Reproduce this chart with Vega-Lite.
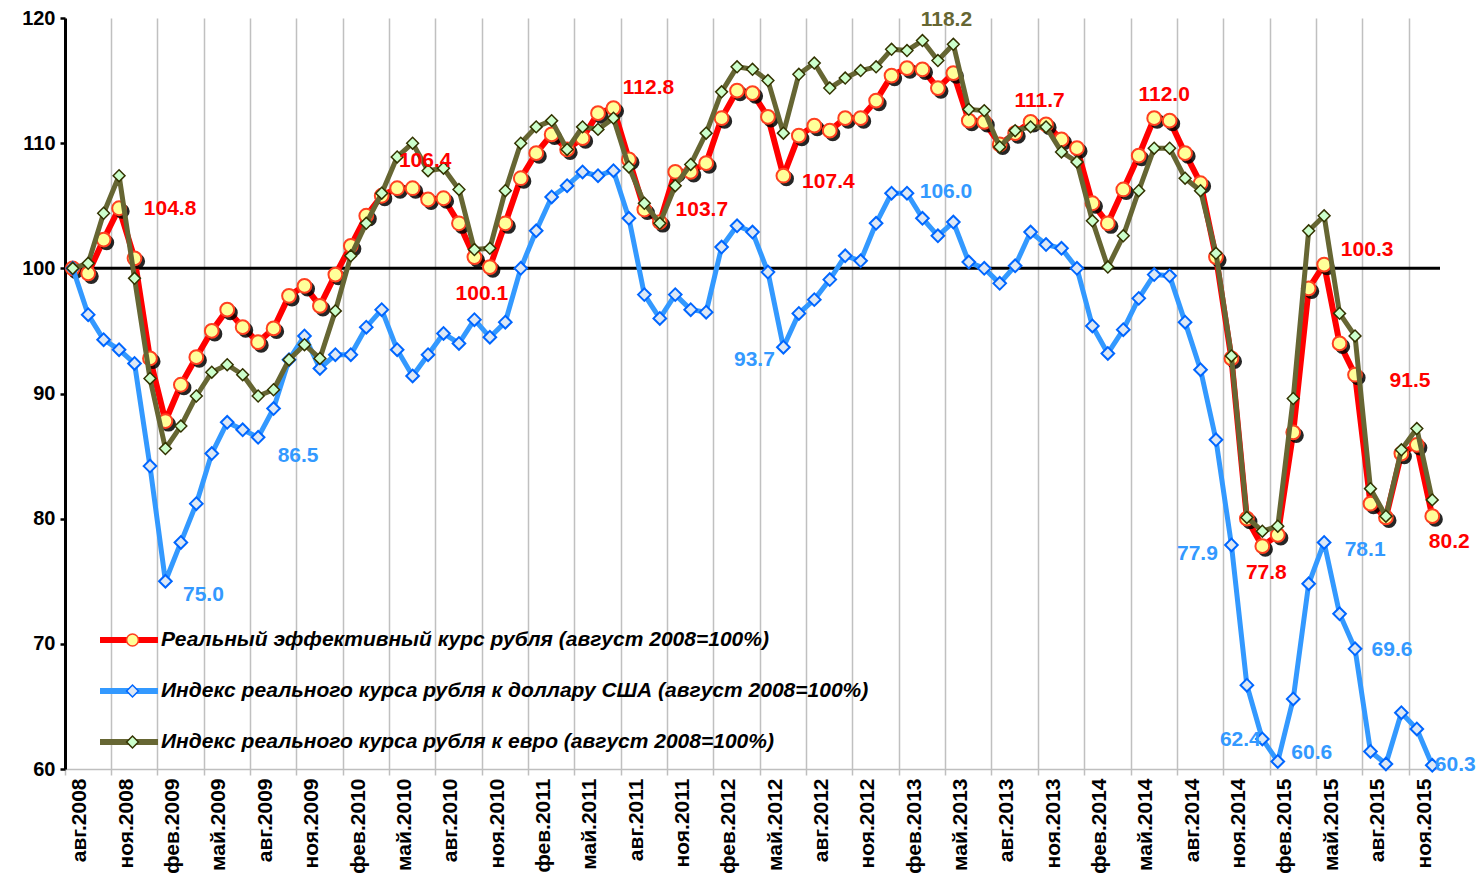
{
  "$schema": "https://vega.github.io/schema/vega-lite/v6.json",
  "width": 1375,
  "height": 751,
  "autosize": {"type": "none"},
  "padding": {"left": 65, "top": 18, "right": 40, "bottom": 112},
  "background": "white",
  "config": {
    "view": {"stroke": null},
    "font": "Liberation Sans",
    "axisY": {"domainColor": "black", "domainWidth": 3, "tickColor": "black", "tickWidth": 2.5, "tickSize": 5, "labelPadding": 5, "labelFont": "Liberation Sans", "labelFontSize": 20, "labelFontWeight": "bold", "labelColor": "black", "gridColor": "#C0C0C0", "gridWidth": 1.5},
    "axisX": {"domainColor": "#BFBFBF", "domainWidth": 1.5, "tickColor": "#BFBFBF", "tickWidth": 1.5, "tickSize": 6, "labelPadding": 3, "labelAngle": 270, "labelFont": "Liberation Sans", "labelFontSize": 21, "labelFontWeight": "bold", "labelColor": "black", "gridColor": "#C0C0C0", "gridWidth": 1.5, "grid": true, "bandPosition": 0, "labelOffset": 7.7}
  },
  "data": {"values": [
    {"m": "авг.2008", "r": 100, "u": 100, "e": 100},
    {"m": "сен.2008", "r": 99.6, "u": 96.3, "e": 100.4},
    {"m": "окт.2008", "r": 102.3, "u": 94.3, "e": 104.4},
    {"m": "ноя.2008", "r": 104.8, "u": 93.5, "e": 107.4},
    {"m": "дек.2008", "r": 100.8, "u": 92.4, "e": 99.2},
    {"m": "янв.2009", "r": 92.8, "u": 84.2, "e": 91.2},
    {"m": "фев.2009", "r": 87.8, "u": 75.0, "e": 85.6},
    {"m": "мар.2009", "r": 90.7, "u": 78.1, "e": 87.4},
    {"m": "апр.2009", "r": 92.9, "u": 81.2, "e": 89.8},
    {"m": "май.2009", "r": 95.0, "u": 85.2, "e": 91.7},
    {"m": "июн.2009", "r": 96.7, "u": 87.7, "e": 92.3},
    {"m": "июл.2009", "r": 95.3, "u": 87.1, "e": 91.5},
    {"m": "авг.2009", "r": 94.1, "u": 86.5, "e": 89.8},
    {"m": "сен.2009", "r": 95.2, "u": 88.8, "e": 90.3},
    {"m": "окт.2009", "r": 97.8, "u": 92.7, "e": 92.7},
    {"m": "ноя.2009", "r": 98.6, "u": 94.6, "e": 93.9},
    {"m": "дек.2009", "r": 97.0, "u": 92.0, "e": 92.8},
    {"m": "янв.2010", "r": 99.5, "u": 93.1, "e": 96.6},
    {"m": "фев.2010", "r": 101.8, "u": 93.1, "e": 101.0},
    {"m": "мар.2010", "r": 104.2, "u": 95.3, "e": 103.6},
    {"m": "апр.2010", "r": 105.8, "u": 96.7, "e": 106.0},
    {"m": "май.2010", "r": 106.4, "u": 93.5, "e": 108.9},
    {"m": "июн.2010", "r": 106.4, "u": 91.4, "e": 110.0},
    {"m": "июл.2010", "r": 105.5, "u": 93.1, "e": 107.8},
    {"m": "авг.2010", "r": 105.6, "u": 94.8, "e": 108.0},
    {"m": "сен.2010", "r": 103.6, "u": 94.0, "e": 106.3},
    {"m": "окт.2010", "r": 100.9, "u": 95.9, "e": 101.5},
    {"m": "ноя.2010", "r": 100.1, "u": 94.5, "e": 101.6},
    {"m": "дек.2010", "r": 103.6, "u": 95.7, "e": 106.2},
    {"m": "янв.2011", "r": 107.2, "u": 100.0, "e": 110.0},
    {"m": "фев.2011", "r": 109.2, "u": 103.0, "e": 111.3},
    {"m": "мар.2011", "r": 110.7, "u": 105.7, "e": 111.8},
    {"m": "апр.2011", "r": 109.5, "u": 106.6, "e": 109.5},
    {"m": "май.2011", "r": 110.4, "u": 107.7, "e": 111.3},
    {"m": "июн.2011", "r": 112.4, "u": 107.4, "e": 111.1},
    {"m": "июл.2011", "r": 112.8, "u": 107.8, "e": 112.0},
    {"m": "авг.2011", "r": 108.7, "u": 104.0, "e": 108.1},
    {"m": "сен.2011", "r": 104.7, "u": 97.9, "e": 105.2},
    {"m": "окт.2011", "r": 103.7, "u": 96.0, "e": 103.6},
    {"m": "ноя.2011", "r": 107.7, "u": 97.9, "e": 106.6},
    {"m": "дек.2011", "r": 107.7, "u": 96.7, "e": 108.3},
    {"m": "янв.2012", "r": 108.4, "u": 96.5, "e": 110.8},
    {"m": "фев.2012", "r": 112.0, "u": 101.7, "e": 114.1},
    {"m": "мар.2012", "r": 114.2, "u": 103.4, "e": 116.1},
    {"m": "апр.2012", "r": 114.0, "u": 102.9, "e": 115.9},
    {"m": "май.2012", "r": 112.1, "u": 99.7, "e": 115.0},
    {"m": "июн.2012", "r": 107.4, "u": 93.7, "e": 110.8},
    {"m": "июл.2012", "r": 110.6, "u": 96.4, "e": 115.5},
    {"m": "авг.2012", "r": 111.4, "u": 97.5, "e": 116.4},
    {"m": "сен.2012", "r": 111.0, "u": 99.1, "e": 114.4},
    {"m": "окт.2012", "r": 112.0, "u": 101.0, "e": 115.2},
    {"m": "ноя.2012", "r": 112.0, "u": 100.6, "e": 115.8},
    {"m": "дек.2012", "r": 113.4, "u": 103.6, "e": 116.1},
    {"m": "янв.2013", "r": 115.4, "u": 106.0, "e": 117.5},
    {"m": "фев.2013", "r": 116.0, "u": 106.0, "e": 117.4},
    {"m": "мар.2013", "r": 115.9, "u": 104.0, "e": 118.2},
    {"m": "апр.2013", "r": 114.4, "u": 102.6, "e": 116.6},
    {"m": "май.2013", "r": 115.6, "u": 103.7, "e": 117.9},
    {"m": "июн.2013", "r": 111.8, "u": 100.5, "e": 112.7},
    {"m": "июл.2013", "r": 111.7, "u": 100.0, "e": 112.6},
    {"m": "авг.2013", "r": 109.9, "u": 98.8, "e": 109.7},
    {"m": "сен.2013", "r": 110.8, "u": 100.2, "e": 111.0},
    {"m": "окт.2013", "r": 111.7, "u": 102.9, "e": 111.3},
    {"m": "ноя.2013", "r": 111.5, "u": 101.9, "e": 111.3},
    {"m": "дек.2013", "r": 110.3, "u": 101.6, "e": 109.3},
    {"m": "янв.2014", "r": 109.6, "u": 100.0, "e": 108.5},
    {"m": "фев.2014", "r": 105.2, "u": 95.4, "e": 103.8},
    {"m": "мар.2014", "r": 103.6, "u": 93.2, "e": 100.1},
    {"m": "апр.2014", "r": 106.3, "u": 95.1, "e": 102.6},
    {"m": "май.2014", "r": 109.0, "u": 97.6, "e": 106.2},
    {"m": "июн.2014", "r": 112.0, "u": 99.5, "e": 109.6},
    {"m": "июл.2014", "r": 111.8, "u": 99.4, "e": 109.6},
    {"m": "авг.2014", "r": 109.2, "u": 95.7, "e": 107.2},
    {"m": "сен.2014", "r": 106.8, "u": 91.9, "e": 106.2},
    {"m": "окт.2014", "r": 100.9, "u": 86.3, "e": 101.2},
    {"m": "ноя.2014", "r": 92.8, "u": 77.9, "e": 93.0},
    {"m": "дек.2014", "r": 80.0, "u": 66.7, "e": 80.1},
    {"m": "янв.2015", "r": 77.8, "u": 62.4, "e": 79.0},
    {"m": "фев.2015", "r": 78.7, "u": 60.6, "e": 79.4},
    {"m": "мар.2015", "r": 86.9, "u": 65.6, "e": 89.6},
    {"m": "апр.2015", "r": 98.4, "u": 74.8, "e": 103.0},
    {"m": "май.2015", "r": 100.3, "u": 78.1, "e": 104.2},
    {"m": "июн.2015", "r": 94.0, "u": 72.4, "e": 96.4},
    {"m": "июл.2015", "r": 91.5, "u": 69.6, "e": 94.6},
    {"m": "авг.2015", "r": 81.2, "u": 61.4, "e": 82.4},
    {"m": "сен.2015", "r": 80.1, "u": 60.4, "e": 80.2},
    {"m": "окт.2015", "r": 85.2, "u": 64.5, "e": 85.5},
    {"m": "ноя.2015", "r": 85.9, "u": 63.2, "e": 87.2},
    {"m": "дек.2015", "r": 80.2, "u": 60.3, "e": 81.5}
  ]},
  "layer": [
    {
      "data": {"values": [{}]},
      "mark": {"type": "rule", "color": "black", "strokeWidth": 3},
      "encoding": {"y": {"datum": 100, "type": "quantitative", "scale": {"domain": [60, 120], "nice": false, "zero": false}, "axis": {"values": [60, 70, 80, 90, 100, 110, 120], "title": null}}}
    },
    {
      "encoding": {"x": {"field": "m", "type": "nominal", "sort": null, "title": null,
        "scale": {"type": "band", "paddingInner": 0, "paddingOuter": 0, "domain": ["авг.2008","сен.2008","окт.2008","ноя.2008","дек.2008","янв.2009","фев.2009","мар.2009","апр.2009","май.2009","июн.2009","июл.2009","авг.2009","сен.2009","окт.2009","ноя.2009","дек.2009","янв.2010","фев.2010","мар.2010","апр.2010","май.2010","июн.2010","июл.2010","авг.2010","сен.2010","окт.2010","ноя.2010","дек.2010","янв.2011","фев.2011","мар.2011","апр.2011","май.2011","июн.2011","июл.2011","авг.2011","сен.2011","окт.2011","ноя.2011","дек.2011","янв.2012","фев.2012","мар.2012","апр.2012","май.2012","июн.2012","июл.2012","авг.2012","сен.2012","окт.2012","ноя.2012","дек.2012","янв.2013","фев.2013","мар.2013","апр.2013","май.2013","июн.2013","июл.2013","авг.2013","сен.2013","окт.2013","ноя.2013","дек.2013","янв.2014","фев.2014","мар.2014","апр.2014","май.2014","июн.2014","июл.2014","авг.2014","сен.2014","окт.2014","ноя.2014","дек.2014","янв.2015","фев.2015","мар.2015","апр.2015","май.2015","июн.2015","июл.2015","авг.2015","сен.2015","окт.2015","ноя.2015","дек.2015"]},
        "axis": {"values": ["авг.2008","ноя.2008","фев.2009","май.2009","авг.2009","ноя.2009","фев.2010","май.2010","авг.2010","ноя.2010","фев.2011","май.2011","авг.2011","ноя.2011","фев.2012","май.2012","авг.2012","ноя.2012","фев.2013","май.2013","авг.2013","ноя.2013","фев.2014","май.2014","авг.2014","ноя.2014","фев.2015","май.2015","авг.2015","ноя.2015"], "title": null}}},
      "layer": [
        {
          "mark": {"type": "line", "strokeWidth": 6, "strokeJoin": "round", "strokeCap": "round"},
          "encoding": {
            "y": {"field": "r", "type": "quantitative", "title": null},
            "color": {"datum": "Реальный эффективный курс рубля (август 2008=100%)",
              "scale": {"domain": ["Реальный эффективный курс рубля (август 2008=100%)", "Индекс реального курса рубля к доллару США (август 2008=100%)", "Индекс реального курса рубля к евро (август 2008=100%)"], "range": ["#FF0000", "#3399FF", "#666633"]},
              "legend": {"orient": "none", "legendX": 32, "legendY": 612, "title": null, "symbolType": "stroke", "symbolSize": 3364, "symbolStrokeWidth": 6, "clipHeight": 20, "rowPadding": 30, "labelFont": "Liberation Sans", "labelFontSize": 21, "labelFontWeight": "bold", "labelFontStyle": "italic", "labelColor": "black", "labelOffset": 0, "labelLimit": 900, "padding": 0}}
          }
        },
        {
          "mark": {"type": "point", "filled": true, "color": "black", "size": 230, "shape": "circle", "xOffset": 3, "yOffset": 3, "opacity": 0.85},
          "encoding": {"y": {"field": "r", "type": "quantitative", "title": null}}
        },
        {
          "mark": {"type": "point", "filled": true, "size": 190, "strokeWidth": 2, "opacity": 1},
          "encoding": {
            "y": {"field": "r", "type": "quantitative", "title": null},
            "shape": {"datum": "r", "scale": {"domain": ["r", "u", "e"], "range": ["circle", "diamond", "diamond"]}, "legend": {"orient": "none", "legendX": 57, "legendY": 612, "title": null, "symbolSize": 140, "symbolStrokeWidth": 1.5, "symbolOpacity": 1, "clipHeight": 20, "rowPadding": 30, "labelFontSize": 21, "labelOpacity": 0, "padding": 0}},
            "fill": {"datum": "r", "scale": {"domain": ["r", "u", "e"], "range": ["#FFFF99", "#DDE8F5", "#CCFFCC"]}, "legend": {"orient": "none", "legendX": 57, "legendY": 612, "title": null, "symbolSize": 140, "symbolStrokeWidth": 1.5, "symbolOpacity": 1, "clipHeight": 20, "rowPadding": 30, "labelFontSize": 21, "labelOpacity": 0, "padding": 0}},
            "stroke": {"datum": "r", "scale": {"domain": ["r", "u", "e"], "range": ["#FF4020", "#0066FF", "#333300"]}, "legend": {"orient": "none", "legendX": 57, "legendY": 612, "title": null, "symbolSize": 140, "symbolStrokeWidth": 1.5, "symbolOpacity": 1, "clipHeight": 20, "rowPadding": 30, "labelFontSize": 21, "labelOpacity": 0, "padding": 0}}
          }
        },
        {
          "mark": {"type": "line", "strokeWidth": 5, "strokeJoin": "round", "strokeCap": "round"},
          "encoding": {
            "y": {"field": "u", "type": "quantitative", "title": null},
            "color": {"datum": "Индекс реального курса рубля к доллару США (август 2008=100%)"}
          }
        },
        {
          "mark": {"type": "point", "filled": true, "size": 160, "strokeWidth": 2, "opacity": 1},
          "encoding": {
            "y": {"field": "u", "type": "quantitative", "title": null},
            "shape": {"datum": "u"},
            "fill": {"datum": "u"},
            "stroke": {"datum": "u"}
          }
        },
        {
          "mark": {"type": "line", "strokeWidth": 5, "strokeJoin": "round", "strokeCap": "round"},
          "encoding": {
            "y": {"field": "e", "type": "quantitative", "title": null},
            "color": {"datum": "Индекс реального курса рубля к евро (август 2008=100%)"}
          }
        },
        {
          "mark": {"type": "point", "filled": true, "size": 140, "strokeWidth": 1.5, "opacity": 1},
          "encoding": {
            "y": {"field": "e", "type": "quantitative", "title": null},
            "shape": {"datum": "e"},
            "fill": {"datum": "e"},
            "stroke": {"datum": "e"}
          }
        },
        {"transform": [{"filter": "datum.m == 'ноя.2008'"}], "mark": {"type": "text", "dx": 51, "dy": 1, "color": "#FF0000", "font": "Liberation Sans", "fontSize": 21, "fontWeight": "bold"}, "encoding": {"y": {"field": "r", "type": "quantitative", "title": null}, "text": {"field": "r", "type": "quantitative", "format": ".1f"}}},
        {"transform": [{"filter": "datum.m == 'май.2010'"}], "mark": {"type": "text", "dx": 28, "dy": -27, "color": "#FF0000", "font": "Liberation Sans", "fontSize": 21, "fontWeight": "bold"}, "encoding": {"y": {"field": "r", "type": "quantitative", "title": null}, "text": {"field": "r", "type": "quantitative", "format": ".1f"}}},
        {"transform": [{"filter": "datum.m == 'ноя.2010'"}], "mark": {"type": "text", "dx": -8, "dy": 27, "color": "#FF0000", "font": "Liberation Sans", "fontSize": 21, "fontWeight": "bold"}, "encoding": {"y": {"field": "r", "type": "quantitative", "title": null}, "text": {"field": "r", "type": "quantitative", "format": ".1f"}}},
        {"transform": [{"filter": "datum.m == 'июл.2011'"}], "mark": {"type": "text", "dx": 35, "dy": -20, "color": "#FF0000", "font": "Liberation Sans", "fontSize": 21, "fontWeight": "bold"}, "encoding": {"y": {"field": "r", "type": "quantitative", "title": null}, "text": {"field": "r", "type": "quantitative", "format": ".1f"}}},
        {"transform": [{"filter": "datum.m == 'окт.2011'"}], "mark": {"type": "text", "dx": 42, "dy": -12, "color": "#FF0000", "font": "Liberation Sans", "fontSize": 21, "fontWeight": "bold"}, "encoding": {"y": {"field": "r", "type": "quantitative", "title": null}, "text": {"field": "r", "type": "quantitative", "format": ".1f"}}},
        {"transform": [{"filter": "datum.m == 'июн.2012'"}], "mark": {"type": "text", "dx": 45, "dy": 6, "color": "#FF0000", "font": "Liberation Sans", "fontSize": 21, "fontWeight": "bold"}, "encoding": {"y": {"field": "r", "type": "quantitative", "title": null}, "text": {"field": "r", "type": "quantitative", "format": ".1f"}}},
        {"transform": [{"filter": "datum.m == 'окт.2013'"}], "mark": {"type": "text", "dx": 9, "dy": -21, "color": "#FF0000", "font": "Liberation Sans", "fontSize": 21, "fontWeight": "bold"}, "encoding": {"y": {"field": "r", "type": "quantitative", "title": null}, "text": {"field": "r", "type": "quantitative", "format": ".1f"}}},
        {"transform": [{"filter": "datum.m == 'июн.2014'"}], "mark": {"type": "text", "dx": 10, "dy": -23, "color": "#FF0000", "font": "Liberation Sans", "fontSize": 21, "fontWeight": "bold"}, "encoding": {"y": {"field": "r", "type": "quantitative", "title": null}, "text": {"field": "r", "type": "quantitative", "format": ".1f"}}},
        {"transform": [{"filter": "datum.m == 'янв.2015'"}], "mark": {"type": "text", "dx": 4, "dy": 27, "color": "#FF0000", "font": "Liberation Sans", "fontSize": 21, "fontWeight": "bold"}, "encoding": {"y": {"field": "r", "type": "quantitative", "title": null}, "text": {"field": "r", "type": "quantitative", "format": ".1f"}}},
        {"transform": [{"filter": "datum.m == 'май.2015'"}], "mark": {"type": "text", "dx": 43, "dy": -15, "color": "#FF0000", "font": "Liberation Sans", "fontSize": 21, "fontWeight": "bold"}, "encoding": {"y": {"field": "r", "type": "quantitative", "title": null}, "text": {"field": "r", "type": "quantitative", "format": ".1f"}}},
        {"transform": [{"filter": "datum.m == 'июл.2015'"}], "mark": {"type": "text", "dx": 55, "dy": 6, "color": "#FF0000", "font": "Liberation Sans", "fontSize": 21, "fontWeight": "bold"}, "encoding": {"y": {"field": "r", "type": "quantitative", "title": null}, "text": {"field": "r", "type": "quantitative", "format": ".1f"}}},
        {"transform": [{"filter": "datum.m == 'дек.2015'"}], "mark": {"type": "text", "dx": 17, "dy": 26, "color": "#FF0000", "font": "Liberation Sans", "fontSize": 21, "fontWeight": "bold"}, "encoding": {"y": {"field": "r", "type": "quantitative", "title": null}, "text": {"field": "r", "type": "quantitative", "format": ".1f"}}},
        {"transform": [{"filter": "datum.m == 'фев.2009'"}], "mark": {"type": "text", "dx": 38, "dy": 14, "color": "#3399FF", "font": "Liberation Sans", "fontSize": 21, "fontWeight": "bold"}, "encoding": {"y": {"field": "u", "type": "quantitative", "title": null}, "text": {"field": "u", "type": "quantitative", "format": ".1f"}}},
        {"transform": [{"filter": "datum.m == 'авг.2009'"}], "mark": {"type": "text", "dx": 40, "dy": 19, "color": "#3399FF", "font": "Liberation Sans", "fontSize": 21, "fontWeight": "bold"}, "encoding": {"y": {"field": "u", "type": "quantitative", "title": null}, "text": {"field": "u", "type": "quantitative", "format": ".1f"}}},
        {"transform": [{"filter": "datum.m == 'июн.2012'"}], "mark": {"type": "text", "dx": -29, "dy": 13, "color": "#3399FF", "font": "Liberation Sans", "fontSize": 21, "fontWeight": "bold"}, "encoding": {"y": {"field": "u", "type": "quantitative", "title": null}, "text": {"field": "u", "type": "quantitative", "format": ".1f"}}},
        {"transform": [{"filter": "datum.m == 'фев.2013'"}], "mark": {"type": "text", "dx": 39, "dy": -1, "color": "#3399FF", "font": "Liberation Sans", "fontSize": 21, "fontWeight": "bold"}, "encoding": {"y": {"field": "u", "type": "quantitative", "title": null}, "text": {"field": "u", "type": "quantitative", "format": ".1f"}}},
        {"transform": [{"filter": "datum.m == 'ноя.2014'"}], "mark": {"type": "text", "dx": -34, "dy": 9, "color": "#3399FF", "font": "Liberation Sans", "fontSize": 21, "fontWeight": "bold"}, "encoding": {"y": {"field": "u", "type": "quantitative", "title": null}, "text": {"field": "u", "type": "quantitative", "format": ".1f"}}},
        {"transform": [{"filter": "datum.m == 'янв.2015'"}], "mark": {"type": "text", "dx": -22, "dy": 1, "color": "#3399FF", "font": "Liberation Sans", "fontSize": 21, "fontWeight": "bold"}, "encoding": {"y": {"field": "u", "type": "quantitative", "title": null}, "text": {"field": "u", "type": "quantitative", "format": ".1f"}}},
        {"transform": [{"filter": "datum.m == 'фев.2015'"}], "mark": {"type": "text", "dx": 34, "dy": -8, "color": "#3399FF", "font": "Liberation Sans", "fontSize": 21, "fontWeight": "bold"}, "encoding": {"y": {"field": "u", "type": "quantitative", "title": null}, "text": {"field": "u", "type": "quantitative", "format": ".1f"}}},
        {"transform": [{"filter": "datum.m == 'май.2015'"}], "mark": {"type": "text", "dx": 41, "dy": 8, "color": "#3399FF", "font": "Liberation Sans", "fontSize": 21, "fontWeight": "bold"}, "encoding": {"y": {"field": "u", "type": "quantitative", "title": null}, "text": {"field": "u", "type": "quantitative", "format": ".1f"}}},
        {"transform": [{"filter": "datum.m == 'июл.2015'"}], "mark": {"type": "text", "dx": 37, "dy": 1, "color": "#3399FF", "font": "Liberation Sans", "fontSize": 21, "fontWeight": "bold"}, "encoding": {"y": {"field": "u", "type": "quantitative", "title": null}, "text": {"field": "u", "type": "quantitative", "format": ".1f"}}},
        {"transform": [{"filter": "datum.m == 'дек.2015'"}], "mark": {"type": "text", "dx": 23, "dy": 0, "color": "#3399FF", "font": "Liberation Sans", "fontSize": 21, "fontWeight": "bold"}, "encoding": {"y": {"field": "u", "type": "quantitative", "title": null}, "text": {"field": "u", "type": "quantitative", "format": ".1f"}}},
        {"transform": [{"filter": "datum.m == 'мар.2013'"}], "mark": {"type": "text", "dx": 24, "dy": -21, "color": "#666633", "font": "Liberation Sans", "fontSize": 21, "fontWeight": "bold"}, "encoding": {"y": {"field": "e", "type": "quantitative", "title": null}, "text": {"field": "e", "type": "quantitative", "format": ".1f"}}}
      ]
    }
  ]
}
